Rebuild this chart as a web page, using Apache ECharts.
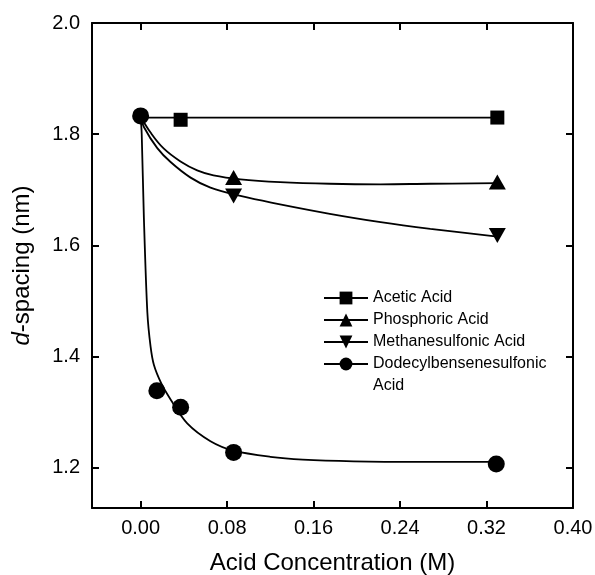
<!DOCTYPE html>
<html>
<head>
<meta charset="utf-8">
<script src="https://cdn.jsdelivr.net/npm/echarts@6/dist/echarts.min.js"></script>
<style>
html,body{margin:0;padding:0;background:#fff;}
#chart{width:595px;height:575px;}
</style>
</head>
<body>
<div id="chart"></div>
<script>
// ---- data ----
const xTicks = [0, 0.08, 0.16, 0.24, 0.32, 0.40];
const yTicks = [1.2, 1.4, 1.6, 1.8, 2.0];

// measured points
const aceticX = [0.037, 0.33];
const aceticY = [1.826, 1.83];
const phosX = [0.086, 0.33];
const phosY = [1.722, 1.714];
const methX = [0.086, 0.33];
const methY = [1.689, 1.618];
const dodecX = [0, 0.015, 0.037, 0.086, 0.329];
const dodecY = [1.833, 1.339, 1.309, 1.228, 1.207];

// fitted curves
const aceticFitX = [0, 0.33];
const aceticFitY = [1.83, 1.83];
const phosFitX = [0, 0.0092, 0.0215, 0.0369, 0.0523, 0.0674, 0.0923, 0.129, 0.175, 0.222, 0.268, 0.33];
const phosFitY = [1.832, 1.803, 1.774, 1.751, 1.735, 1.726, 1.719, 1.714, 1.711, 1.710, 1.711, 1.712];
const methFitX = [0, 0.003, 0.0154, 0.0277, 0.0462, 0.0646, 0.0923, 0.129, 0.175, 0.222, 0.268, 0.33];
const methFitY = [1.832, 1.813, 1.775, 1.750, 1.722, 1.704, 1.689, 1.674, 1.657, 1.642, 1.630, 1.616];
const dodecFitX = [0, 0.001, 0.003, 0.0062, 0.0092, 0.0123, 0.0191, 0.0277, 0.0431, 0.0646, 0.0859, 0.12, 0.15, 0.197, 0.258, 0.329];
const dodecFitY = [1.832, 1.800, 1.650, 1.480, 1.418, 1.385, 1.352, 1.323, 1.280, 1.248, 1.231, 1.220, 1.215, 1.212, 1.211, 1.211];

const seriesNames = ['Acetic Acid', 'Phosphoric Acid', 'Methanesulfonic Acid', 'Dodecylbensenesulfonic Acid'];

function pairs(xs, ys) { return xs.map((x, i) => [x, ys[i]]); }

const FONT = "'Liberation Sans', Arial, sans-serif";
const black = '#000';

function fit(name, xs, ys, sm) {
  return {
    type: 'line', name: name, data: pairs(xs, ys), symbol: 'none',
    smooth: sm, silent: true, z: 2,
    lineStyle: { color: black, width: 1.8 }
  };
}
function marks(name, xs, ys, symbol, size, rotate) {
  return {
    type: 'line', name: name, data: pairs(xs, ys), symbol: symbol, symbolSize: size,
    symbolRotate: rotate || 0, showSymbol: true, z: 3,
    itemStyle: { color: black, opacity: 1 },
    lineStyle: { color: black, opacity: 0, width: 0 }
  };
}

const chart = echarts.init(document.getElementById('chart'), null, { renderer: 'canvas' });

const axisLineStyle = { color: black, width: 2 };

chart.setOption({
  animation: false,
  backgroundColor: '#fff',
  textStyle: { fontFamily: FONT, color: black },
  grid: { left: 92, right: 22, top: 23, bottom: 67, containLabel: false, outerBoundsMode: 'none' },
  legend: {
    orient: 'vertical', left: 323, top: 287, padding: 0,
    itemWidth: 44, itemHeight: 16, itemGap: 0, selectedMode: false,
    textStyle: { fontFamily: FONT, fontSize: 16, color: black, lineHeight: 22 },
    lineStyle: { color: black, width: 2, opacity: 1 },
    itemStyle: { color: black },
    formatter: function (n) { return n === seriesNames[3] ? 'Dodecylbensenesulfonic' : n; },
    data: [
      { name: seriesNames[0] },
      { name: seriesNames[1] },
      { name: seriesNames[2] },
      { name: seriesNames[3] },
      { name: 'Acid', icon: 'none' }
    ]
  },
  xAxis: [{
    type: 'value', position: 'bottom', min: -0.045, max: 0.40,
    axisLine: { show: true, onZero: false, lineStyle: axisLineStyle },
    axisTick: { show: true, inside: true, length: 7, customValues: xTicks, lineStyle: axisLineStyle },
    axisLabel: { customValues: xTicks, formatter: v => v.toFixed(2), fontSize: 20, color: black, margin: 10, fontFamily: FONT },
    splitLine: { show: false },
    name: 'Acid Concentration (M)', nameLocation: 'middle', nameGap: 43,
    nameTextStyle: { fontSize: 24, color: black, fontFamily: FONT }
  }, {
    type: 'value', position: 'top', min: -0.045, max: 0.40,
    axisLine: { show: true, onZero: false, lineStyle: axisLineStyle },
    axisTick: { show: true, inside: true, length: 7, customValues: xTicks, lineStyle: axisLineStyle },
    axisLabel: { show: false }, splitLine: { show: false }
  }],
  yAxis: [{
    type: 'value', position: 'left', min: 1.128, max: 2.0,
    axisLine: { show: true, onZero: false, lineStyle: axisLineStyle },
    axisTick: { show: true, inside: true, length: 7, customValues: yTicks, lineStyle: axisLineStyle },
    axisLabel: { customValues: yTicks, formatter: v => v.toFixed(1), fontSize: 20, color: black, margin: 12, fontFamily: FONT },
    splitLine: { show: false },
    name: '{i|d}-spacing (nm)', nameLocation: 'middle', nameGap: 58,
    nameTextStyle: { fontSize: 24, color: black, fontFamily: FONT,
      rich: { i: { fontStyle: 'italic', fontSize: 24, color: black, fontFamily: FONT } } }
  }, {
    type: 'value', position: 'right', min: 1.128, max: 2.0,
    axisLine: { show: true, onZero: false, lineStyle: axisLineStyle },
    axisTick: { show: true, inside: true, length: 7, customValues: yTicks, lineStyle: axisLineStyle },
    axisLabel: { show: false }, splitLine: { show: false }
  }],
  series: [
    fit('fit-acetic', aceticFitX, aceticFitY, false),
    fit('fit-phos', phosFitX, phosFitY, 0.4),
    fit('fit-meth', methFitX, methFitY, 0.4),
    fit('fit-dodec', dodecFitX, dodecFitY, 0.3),
    marks(seriesNames[0], aceticX, aceticY, 'rect', 14),
    marks(seriesNames[1], phosX, phosY, 'triangle', [17, 15]),
    marks(seriesNames[2], methX, methY, 'triangle', [17, 15], 180),
    marks(seriesNames[3], dodecX, dodecY, 'circle', 17),
    { type: 'line', name: 'Acid', data: [], symbol: 'none' }
  ]
});
</script>
</body>
</html>
